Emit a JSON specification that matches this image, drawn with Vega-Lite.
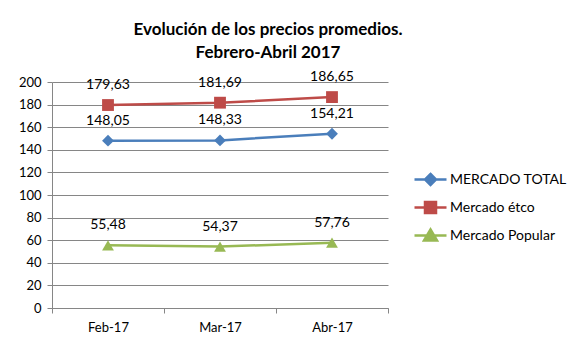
{
  "$schema": "https://vega.github.io/schema/vega-lite/v6.json",
  "autosize": "none",
  "width": 336,
  "height": 226,
  "padding": {"left": 52, "top": 82, "right": 196, "bottom": 44},
  "background": "white",
  "title": {
    "text": ["Evolución de los precios promedios.", "Febrero-Abril 2017"],
    "anchor": "middle",
    "dx": 48,
    "font": "Lato",
    "fontSize": 17,
    "fontWeight": "bold",
    "color": "#000000",
    "lineHeight": 23,
    "offset": 8
  },
  "config": {
    "view": {"stroke": null},
    "font": "Lato"
  },
  "data": {
    "values": [
      {"mes": "Feb-17", "serie": "MERCADO TOTAL", "valor": 148.05, "etiqueta": "148,05"},
      {"mes": "Mar-17", "serie": "MERCADO TOTAL", "valor": 148.33, "etiqueta": "148,33"},
      {"mes": "Abr-17", "serie": "MERCADO TOTAL", "valor": 154.21, "etiqueta": "154,21"},
      {"mes": "Feb-17", "serie": "Mercado étco", "valor": 179.63, "etiqueta": "179,63"},
      {"mes": "Mar-17", "serie": "Mercado étco", "valor": 181.69, "etiqueta": "181,69"},
      {"mes": "Abr-17", "serie": "Mercado étco", "valor": 186.65, "etiqueta": "186,65"},
      {"mes": "Feb-17", "serie": "Mercado Popular", "valor": 55.48, "etiqueta": "55,48"},
      {"mes": "Mar-17", "serie": "Mercado Popular", "valor": 54.37, "etiqueta": "54,37"},
      {"mes": "Abr-17", "serie": "Mercado Popular", "valor": 57.76, "etiqueta": "57,76"}
    ]
  },
  "encoding": {
    "x": {
      "field": "mes",
      "type": "ordinal",
      "sort": ["Feb-17", "Mar-17", "Abr-17"],
      "scale": {"paddingInner": 0, "paddingOuter": 0},
      "axis": {
        "title": null,
        "labelAngle": 0,
        "labelFont": "Lato",
        "labelFontSize": 13,
        "labelColor": "#000000",
        "labelPadding": 8,
        "domainColor": "#868686",
        "tickColor": "#868686",
        "tickBand": "extent",
        "tickSize": 5,
        "grid": false
      }
    },
    "y": {
      "field": "valor",
      "type": "quantitative",
      "scale": {"domain": [0, 200], "nice": false},
      "axis": {
        "title": null,
        "values": [0, 20, 40, 60, 80, 100, 120, 140, 160, 180, 200],
        "labelFont": "Lato",
        "labelFontSize": 13,
        "labelColor": "#000000",
        "labelPadding": 6,
        "domainColor": "#868686",
        "tickColor": "#868686",
        "tickSize": 5,
        "grid": true,
        "gridColor": "#868686",
        "gridWidth": 1
      }
    },
    "color": {
      "field": "serie",
      "type": "nominal",
      "sort": ["MERCADO TOTAL", "Mercado étco", "Mercado Popular"],
      "scale": {
        "domain": ["MERCADO TOTAL", "Mercado étco", "Mercado Popular"],
        "range": ["#4A7EBB", "#BE4B48", "#98B954"]
      },
      "legend": {
        "title": null,
        "orient": "none",
        "legendX": 367,
        "legendY": 86,
        "padding": 0,
        "symbolSize": 400,
        "rowPadding": 6,
        "labelOffset": 8,
        "labelFont": "Lato",
        "labelFontSize": 14,
        "labelColor": "#000000",
        "encode": {
          "symbols": {
            "update": {
              "shape": {"signal": "datum.value === 'MERCADO TOTAL' ? 'M-1.6,0H1.6M0,-0.55L0.55,0L0,0.55L-0.55,0Z' : (datum.value === 'Mercado Popular' ? 'M-1.6,0H1.6M0,-0.6L0.65,0.5H-0.65Z' : 'M-1.6,0H1.6M-0.55,-0.55H0.55V0.55H-0.55Z')"},
              "fill": {"scale": "color", "field": "value"},
              "stroke": {"scale": "color", "field": "value"},
              "strokeWidth": {"value": 2.5},
              "size": {"value": 400},
              "opacity": {"value": 1},
              "fillOpacity": {"value": 1}
            }
          }
        }
      }
    }
  },
  "layer": [
    {
      "mark": {"type": "line", "strokeWidth": 2.5}
    },
    {
      "transform": [{"filter": "datum.serie === 'MERCADO TOTAL'"}],
      "mark": {"type": "point", "shape": "diamond", "filled": true, "opacity": 1, "size": 140}
    },
    {
      "transform": [{"filter": "datum.serie === 'Mercado Popular'"}],
      "mark": {"type": "point", "shape": "triangle-up", "filled": true, "opacity": 1, "size": 140}
    },
    {
      "transform": [{"filter": "datum.serie !== 'MERCADO TOTAL' && datum.serie !== 'Mercado Popular'"}],
      "mark": {"type": "point", "shape": "square", "filled": true, "opacity": 1, "size": 140}
    },
    {
      "mark": {"type": "text", "dy": -20, "font": "Lato", "fontSize": 14, "color": "#000000"},
      "encoding": {
        "text": {"field": "etiqueta", "type": "nominal"},
        "color": {"value": "#000000"}
      }
    }
  ]
}
